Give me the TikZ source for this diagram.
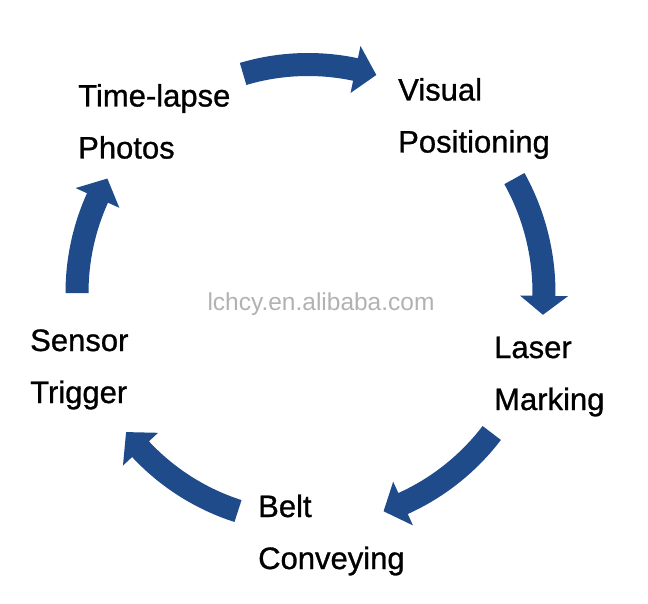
\documentclass[tikz,border=0pt]{standalone}
\usepackage{fontspec}
\setmainfont{Liberation Sans}
\newfontfamily\lblfont[FakeBold=0.9]{Liberation Sans}
\usetikzlibrary{calc}
\definecolor{arrowblue}{RGB}{31,75,138}
\definecolor{wmgray}{RGB}{178,178,178}
\tikzset{
  lbl/.style={anchor=base west, inner sep=0pt, font=\lblfont\fontsize{31}{37}\selectfont, text=black},
  wm/.style={anchor=base, inner sep=0pt, font=\fontsize{24.5}{29}\selectfont, text=wmgray},
  arrowfill/.style={fill=arrowblue}
}
% #1 start angle, #2 head-base angle, #3 tip angle, #4 centre radius
\newcommand\cycarrow[4]{%
  \fill[arrowfill] ($(c)+({#1}:{#4+11.5})$)
    arc[start angle=#1, end angle=#2, radius=#4+11.5]
    -- ($(c)+({#2}:{#4+24})$)
    -- ($(c)+({#3}:{#4})$)
    -- ($(c)+({#2}:{#4-24})$)
    -- ($(c)+({#2}:{#4-11.5})$)
    arc[start angle=#2, end angle=#1, radius=#4-11.5]
    -- cycle;}
\begin{document}
\begin{tikzpicture}[x=1pt,y=1pt]
\useasboundingbox[fill=white] (0,0) rectangle (648,-604);
\coordinate (c) at (308,-293);
% arrows
\cycarrow{106.5}{78}{72.6}{228.5}
\cycarrow{29}{-0.7}{-5.3}{236}
\cycarrow{-37.3}{-65.7}{-70.9}{231}
\cycarrow{-107.8}{-137}{-142.6}{229}
\cycarrow{180}{155.7}{150.3}{231}
% labels
\node[lbl] (tl1) at (78,-106.5) {Time-lapse};
\node[lbl] (tl2) at (78,-158.5) {Photos};
\node[lbl] (vp1) at (398,-100.5) {Visual};
\node[lbl] (vp2) at (398,-152.5) {Positioning};
\node[lbl] (lm1) at (494,-358) {Laser};
\node[lbl] (lm2) at (494,-410) {Marking};
\node[lbl] (bc1) at (258,-517) {Belt};
\node[lbl] (bc2) at (258,-569) {Conveying};
\node[lbl] (st1) at (30,-351) {Sensor};
\node[lbl] (st2) at (30,-403) {Trigger};
% watermark
\node[wm] (wmk) at (321,-310) {lchcy.en.alibaba.com};
\end{tikzpicture}
\end{document}
